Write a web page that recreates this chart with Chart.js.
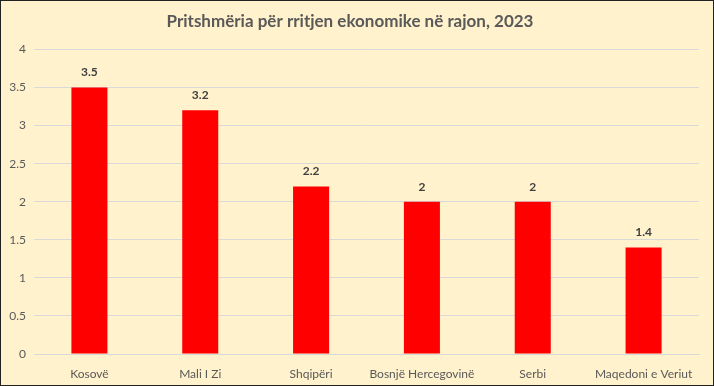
<!DOCTYPE html>
<html>
<head>
<meta charset="utf-8">
<script src="https://cdn.jsdelivr.net/npm/chart.js@4"></script>
<style>
  html, body { margin: 0; padding: 0; background: #fff; }
  .box {
    width: 714px; height: 386px; box-sizing: border-box;
    border: 1px solid #222; background: #FFF2CC;
  }
  canvas { display: block; }
</style>
</head>
<body>
<div class="box">
  <canvas id="myChart" width="712" height="384"></canvas>
</div>
<script>
// data
const categories = ["Kosovë", "Mali I Zi", "Shqipëri", "Bosnjë Hercegovinë", "Serbi", "Maqedoni e Veriut"];
const growth = [3.5, 3.2, 2.2, 2, 2, 1.4];
const yTicks = [0, 0.5, 1, 1.5, 2, 2.5, 3, 3.5, 4];

// labels above the bars (no datalabels plugin here)
const barLabels = {
  id: "barLabels",
  afterDatasetsDraw(chart) {
    const ctx = chart.ctx;
    const meta = chart.getDatasetMeta(0);
    ctx.save();
    ctx.font = "bold 12px Lato";
    ctx.fillStyle = "#404040";
    ctx.textAlign = "center";
    ctx.textBaseline = "middle";
    meta.data.forEach((bar, i) => {
      ctx.fillText(String(growth[i]), bar.x, bar.y - 15);
    });
    ctx.restore();
  }
};

const ctx = document.getElementById("myChart").getContext("2d");
new Chart(ctx, {
  type: "bar",
  data: {
    labels: categories,
    datasets: [
      {
        label: "",
        data: growth,
        backgroundColor: "#FF0000",
        borderWidth: 0,
        barPercentage: 0.325,
        categoryPercentage: 1
      }
    ]
  },
  options: {
    responsive: false,
    animation: false,
    layout: { padding: { left: 0, right: 14, top: 0, bottom: 0 } },
    plugins: {
      legend: { display: false },
      tooltip: { enabled: false },
      title: {
        display: true,
        text: "Pritshmëria për rritjen ekonomike në rajon, 2023",
        color: "#595959",
        font: { family: "Lato", size: 17, weight: "bold" },
        padding: { top: 10, bottom: 18 }
      }
    },
    scales: {
      x: {
        grid: { display: false },
        border: { display: true, color: "#D9D9D9" },
        ticks: {
          color: "#595959",
          font: { family: "Lato", size: 12 },
          padding: 5,
          maxRotation: 0,
          minRotation: 0,
          autoSkip: false
        },
        afterFit(scale) { scale.height = 31; }
      },
      y: {
        min: 0,
        max: 4,
        afterBuildTicks(scale) { scale.ticks = yTicks.map(v => ({ value: v })); },
        grid: { color: "#D9D9D9", drawTicks: false },
        border: { display: false },
        ticks: {
          color: "#595959",
          font: { family: "Lato", size: 12 },
          padding: 8,
          callback: v => String(v)
        },
        afterFit(scale) { scale.width = 33; }
      }
    }
  },
  plugins: [barLabels]
});
</script>
</body>
</html>
